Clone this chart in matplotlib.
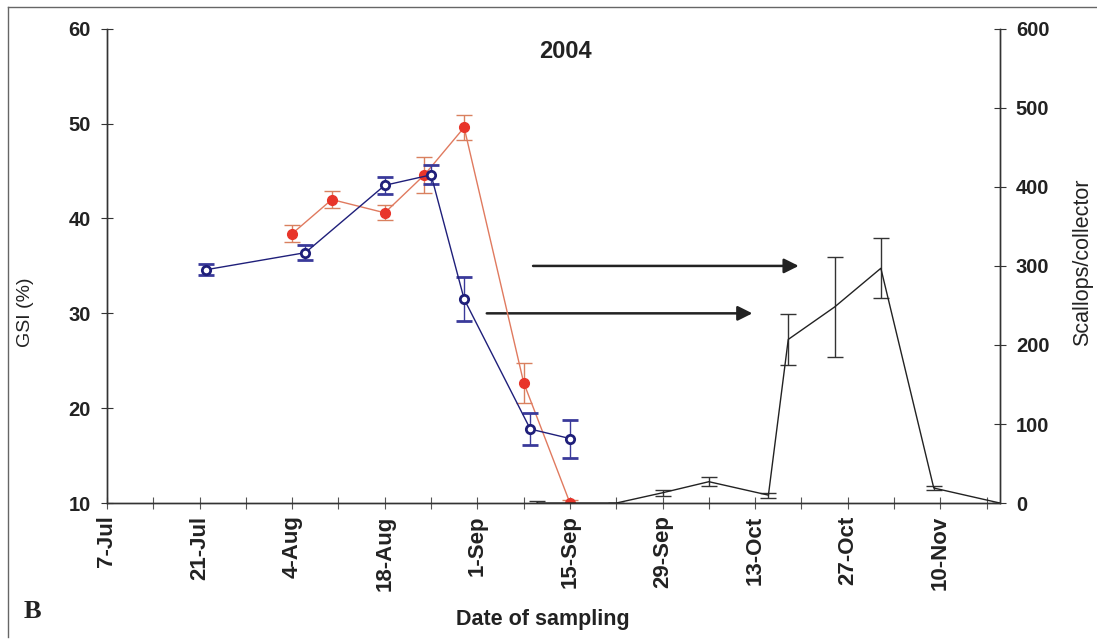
import numpy as np
import pandas as pd
import matplotlib
matplotlib.use('Agg')
import matplotlib.pyplot as plt
import matplotlib.dates as mdates
from matplotlib.ticker import FixedLocator

plt.rcParams['font.family'] = ['Liberation Sans', 'DejaVu Sans']

# GSI, open circles (blue)
blue_dates = pd.to_datetime(['2004-07-22', '2004-08-06', '2004-08-18', '2004-08-25',
                             '2004-08-30', '2004-09-09', '2004-09-15'])
blue_gsi = [34.6, 36.4, 43.5, 44.6, 31.5, 17.8, 16.8]
blue_err = [0.6, 0.8, 0.9, 1.0, 2.3, 1.7, 2.0]

# GSI, filled circles (red)
red_dates = pd.to_datetime(['2004-08-04', '2004-08-10', '2004-08-18', '2004-08-24',
                            '2004-08-30', '2004-09-08', '2004-09-15'])
red_gsi = [38.4, 42.0, 40.6, 44.6, 49.6, 22.7, 10.0]
red_err = [0.9, 0.9, 0.8, 1.9, 1.3, 2.1, 0.3]

# spat collection (right axis)
spat_dates = pd.to_datetime(['2004-09-10', '2004-09-22', '2004-09-29', '2004-10-06',
                             '2004-10-15', '2004-10-18', '2004-10-25', '2004-11-01',
                             '2004-11-09', '2004-11-19'])
spat = [0, 0, 13, 27, 10, 207, 248, 297, 19, 0]
spat_err = [2, 0, 4, 6, 3, 32, 63, 38, 3, 0]

fig = plt.figure(figsize=(10.97, 6.40), dpi=100)
ax = fig.add_axes([0.0975, 0.214, 0.814, 0.741])
ax2 = ax.twinx()

blue_c = '#1f1f7a'
red_c = '#e8352a'
red_line = '#e07a5f'
txt_c = '#222222'

ax.errorbar(blue_dates, blue_gsi, yerr=blue_err, color=blue_c, lw=1, marker='o',
            ms=6, mfc='white', mec=blue_c, mew=2, capsize=6, elinewidth=1,
            ecolor='#3a3a9a', zorder=4)
ax.errorbar(red_dates, red_gsi, yerr=red_err, color=red_line, lw=1, marker='o',
            ms=7, mfc=red_c, mec=red_c, capsize=6, elinewidth=1,
            ecolor='#d9805f', zorder=3)
ax2.errorbar(spat_dates, spat, yerr=spat_err, color='#222222', lw=1, capsize=6,
             elinewidth=1, ecolor='#333333')

# arrows
ax.annotate('', xy=(pd.Timestamp('2004-10-20'), 35), xytext=(pd.Timestamp('2004-09-09'), 35),
            arrowprops=dict(arrowstyle='-|>', color='#222222', lw=1.8, mutation_scale=22))
ax.annotate('', xy=(pd.Timestamp('2004-10-13'), 30), xytext=(pd.Timestamp('2004-09-02'), 30),
            arrowprops=dict(arrowstyle='-|>', color='#222222', lw=1.8, mutation_scale=22))

ax.set_xlim(pd.Timestamp('2004-07-07'), pd.Timestamp('2004-11-19'))
ax.set_ylim(10, 60)
ax2.set_ylim(0, 600)

major = pd.date_range('2004-07-07', '2004-11-10', freq='14D')
minor = pd.date_range('2004-07-07', '2004-11-19', freq='7D')
ax.xaxis.set_major_locator(FixedLocator(mdates.date2num(major)))
ax.xaxis.set_minor_locator(FixedLocator(mdates.date2num(minor)))
ax.set_xticklabels([f'{d.day}-{d.strftime("%b")}' for d in major],
                   rotation=90, fontsize=16, fontweight='bold', color=txt_c)

ax.set_yticks([10, 20, 30, 40, 50, 60])
ax2.set_yticks([0, 100, 200, 300, 400, 500, 600])
for a in (ax, ax2):
    a.tick_params(axis='y', direction='inout', length=9, width=0.8, labelsize=14.5,
                  colors='#333333', labelcolor=txt_c, pad=7)
    for lab in a.get_yticklabels():
        lab.set_fontweight('bold')
    a.spines['top'].set_visible(False)
    for s in ('left', 'right', 'bottom'):
        a.spines[s].set_color('#333333')
        a.spines[s].set_linewidth(1)
ax.tick_params(axis='x', which='both', direction='inout', length=8, width=0.8,
               colors='#555555', labelcolor=txt_c, pad=5)

# axis titles placed as in the scan
fig.text(25 / 1097, 1 - 312 / 640, 'GSI (%)', rotation=90, fontsize=14,
         ha='center', va='center', color=txt_c)
fig.text(1083 / 1097, 1 - 262 / 640, 'Scallops/collector', rotation=90, fontsize=15.5,
         ha='center', va='center', color=txt_c)
fig.text(543 / 1097, 1 - 620 / 640, 'Date of sampling', fontsize=15.5, fontweight='bold',
         ha='center', va='center', color=txt_c)

fig.text(565 / 1097, 1 - 52 / 640, '2004', fontsize=17, fontweight='bold',
         ha='center', va='center', color=txt_c)
fig.text(32 / 1097, 1 - 611 / 640, 'B', fontsize=19, fontweight='bold',
         family='Liberation Serif', ha='center', va='center', color=txt_c)

# scanned page frame
fig.add_artist(plt.Line2D([0.007, 1], [0.989, 0.989], transform=fig.transFigure,
                          color='#666666', lw=1))
fig.add_artist(plt.Line2D([0.007, 0.007], [0.005, 0.989], transform=fig.transFigure,
                          color='#666666', lw=1))

fig.savefig('out.png', dpi=100)
